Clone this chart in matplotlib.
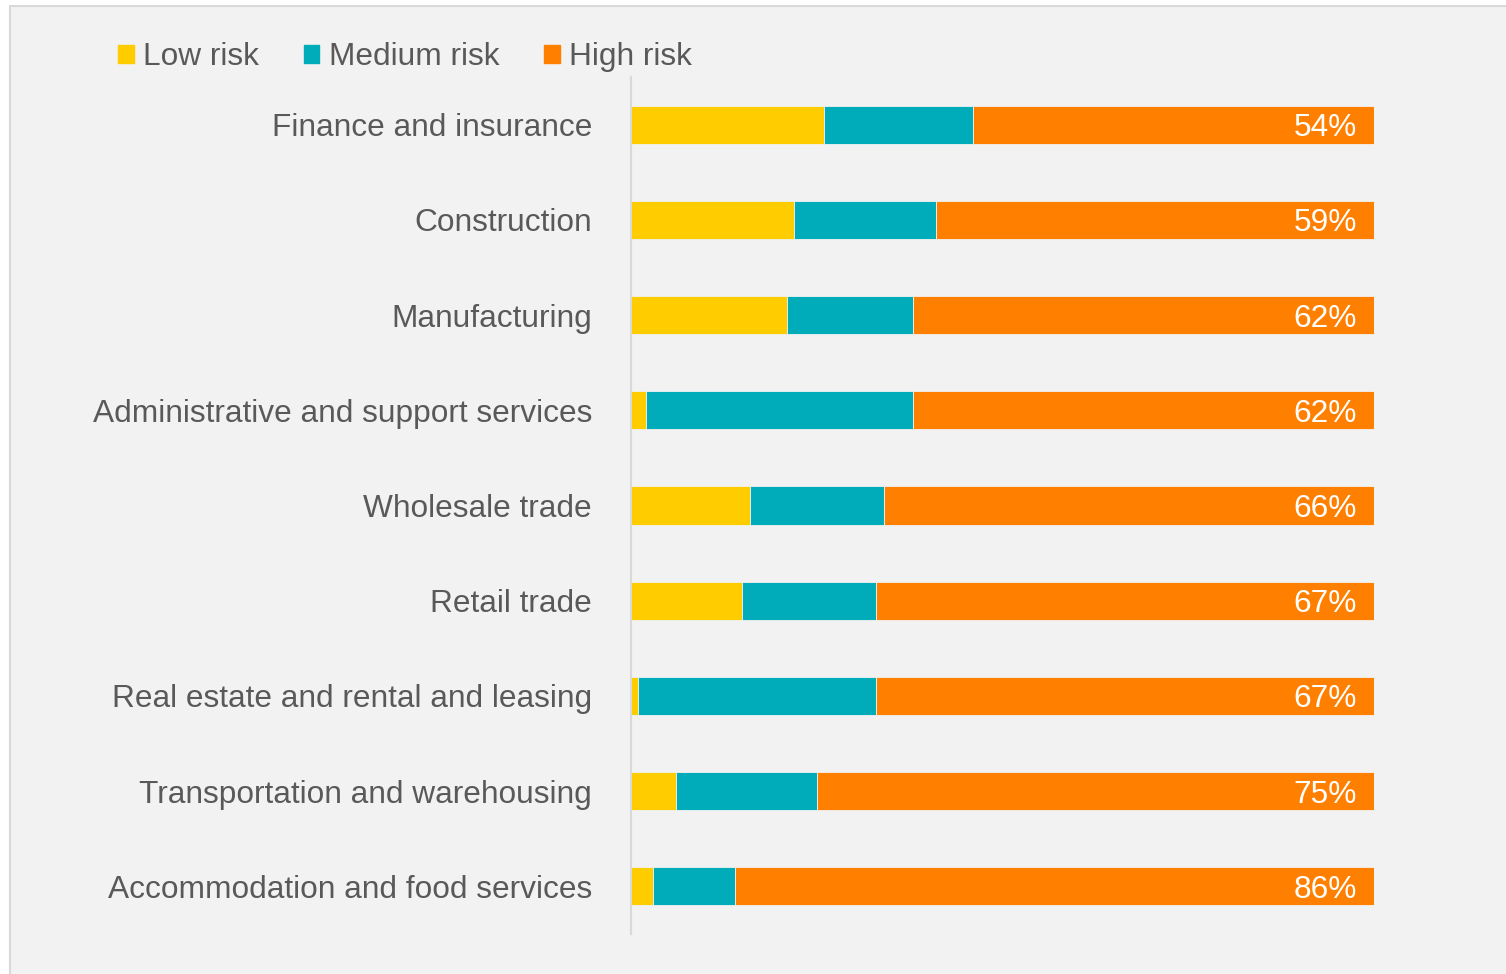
import matplotlib
matplotlib.use("Agg")
import matplotlib.pyplot as plt
from matplotlib.patches import Rectangle, Patch

plt.rcParams["font.family"] = ["Liberation Sans", "DejaVu Sans"]

industries = [
    "Finance and insurance",
    "Construction",
    "Manufacturing",
    "Administrative and support services",
    "Wholesale trade",
    "Retail trade",
    "Real estate and rental and leasing",
    "Transportation and warehousing",
    "Accommodation and food services",
]
low_risk = [26, 22, 21, 2, 16, 15, 1, 6, 3]
medium_risk = [20, 19, 17, 36, 18, 18, 32, 19, 11]
high_risk = [54, 59, 62, 62, 66, 67, 67, 75, 86]

c_low = "#FFCC00"
c_med = "#00ABBA"
c_high = "#FF8000"
txt = "#595959"
fs = 22.8

fig = plt.figure(figsize=(15.06, 9.74), dpi=100, facecolor="white")
fig.patches.append(Rectangle((10 / 1506, -0.01), 1.0, 1 - 6 / 974 + 0.01,
                             transform=fig.transFigure, facecolor="#f2f2f2",
                             edgecolor="#d9d9d9", linewidth=1.5, zorder=-10))

ax = fig.add_axes([631 / 1506, 1 - 934 / 974, 743 / 1506, (934 - 77) / 974])
ax.set_facecolor("none")

y = list(range(len(industries)))
left_med = [l for l in low_risk]
left_high = [l + m for l, m in zip(low_risk, medium_risk)]

ax.barh(y, low_risk, height=0.4, color=c_low, edgecolor="#f2f2f2", linewidth=0.6)
ax.barh(y, medium_risk, left=left_med, height=0.4, color=c_med, edgecolor="#f2f2f2", linewidth=0.6)
ax.barh(y, high_risk, left=left_high, height=0.4, color=c_high, edgecolor="#f2f2f2", linewidth=0.6)

for yi, h in zip(y, high_risk):
    ax.text(97.7, yi, f"{h}%", ha="right", va="center_baseline", color="white", fontsize=fs)

ax.set_xlim(0, 100)
ax.set_ylim(len(industries) - 0.5, -0.5)
ax.set_yticks(y)
ax.set_yticklabels(industries, fontsize=fs, color=txt)
ax.tick_params(axis="y", length=0, pad=28)
ax.set_xticks([])
for s in ["top", "right", "bottom"]:
    ax.spines[s].set_visible(False)
ax.spines["left"].set_color("#d9d9d9")
ax.spines["left"].set_linewidth(1.5)

handles = [Patch(color=c_low, label="Low risk"),
           Patch(color=c_med, label="Medium risk"),
           Patch(color=c_high, label="High risk")]
leg = fig.legend(handles=handles, loc="center left", bbox_to_anchor=(118 / 1506, 1 - 57 / 974),
                 ncol=3, frameon=False, fontsize=fs, handlelength=0.5, handleheight=0.5,
                 handletextpad=0.3, columnspacing=1.4, borderpad=0, borderaxespad=0)
for t in leg.get_texts():
    t.set_color(txt)

fig.savefig("out.png", dpi=100, facecolor="white")
